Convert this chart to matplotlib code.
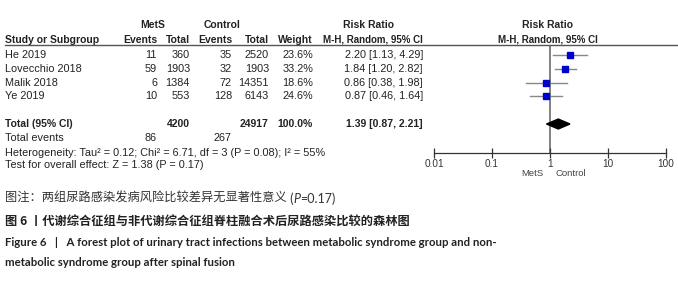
import matplotlib
matplotlib.use("Agg")
import matplotlib.pyplot as plt
import matplotlib.transforms as mtransforms
from matplotlib.lines import Line2D
from matplotlib.ticker import NullLocator

# data
studies = ["He 2019", "Lovecchio 2018", "Malik 2018", "Ye 2019"]
mets_events = [11, 59, 6, 10]
mets_total = [360, 1903, 1384, 553]
ctrl_events = [35, 32, 72, 128]
ctrl_total = [2520, 1903, 14351, 6143]
weights = [23.6, 33.2, 18.6, 24.6]
rr = [2.20, 1.84, 0.86, 0.87]
rr_lo = [1.13, 1.20, 0.38, 0.46]
rr_hi = [4.29, 2.82, 1.98, 1.64]
total_rr, total_lo, total_hi = 1.39, 0.87, 2.21
xticks = [0.01, 0.1, 1, 10, 100]
xtick_labels = ["0.01", "0.1", "1", "10", "100"]

W, H = 678, 300
fig = plt.figure(figsize=(W / 100, H / 100), dpi=100)
plt.rcParams['font.family'] = ['Liberation Sans', 'DejaVu Sans']

TXT = "#222222"
FS = 7.8

# forest axes, rows are y units
ax = fig.add_axes([434 / W, 1 - 153 / H, (666 - 434) / W, (153 - 45) / H])
ax.set_xscale('log')
ax.set_xlim(0.01, 100)
ax.set_ylim(7.1, -0.725)
ax.set_xticks(xticks)
ax.set_xticklabels(xtick_labels)
ax.xaxis.set_minor_locator(NullLocator())
ax.set_yticks([])
for s in ['left', 'right', 'top']:
    ax.spines[s].set_visible(False)
ax.spines['bottom'].set_color('#333333')
ax.spines['bottom'].set_linewidth(0.9)
ax.tick_params(axis='x', direction='inout', length=7, width=0.9, color='#333333',
               labelsize=7.2, labelcolor='#333333', pad=1)
ax.patch.set_alpha(0)
ax.axvline(1, color='#777777', lw=1.3, zorder=1)

rows = list(range(len(studies)))
total_row = 5
for i, r in enumerate(rows):
    ax.plot([rr_lo[i], rr_hi[i]], [r, r], color='#888888', lw=1, zorder=2)
    ax.plot(rr[i], r, marker='s', color='#0000cc', ms=0.85 * weights[i] ** 0.5,
            mec='#0000cc', zorder=3)
dh = 0.36
ax.fill([total_lo, total_rr, total_hi, total_rr],
        [total_row, total_row - dh, total_row, total_row + dh],
        color='black', zorder=3)

# table text
tr = mtransforms.blended_transform_factory(fig.transFigure, ax.transData)


def t(xpx, row, s, ha='right', bold=False, fs=FS, **kw):
    fig.text(xpx / W, row, s, transform=tr, ha=ha, va='center', fontsize=fs,
             color=TXT, fontweight='bold' if bold else 'normal', **kw)


h1, h2 = -2.15, -1.12
HF = 7.5
t(153, h1, "MetS", ha='center', bold=True, fs=HF)
t(222, h1, "Control", ha='center', bold=True, fs=HF)
t(369, h1, "Risk Ratio", ha='center', bold=True, fs=HF)
t(548, h1, "Risk Ratio", ha='center', bold=True, fs=HF)
t(5, h2, "Study or Subgroup", ha='left', bold=True, fs=HF)
t(157, h2, "Events", bold=True, fs=HF)
t(190, h2, "Total", bold=True, fs=HF)
t(232, h2, "Events", bold=True, fs=HF)
t(269, h2, "Total", bold=True, fs=HF)
t(313, h2, "Weight", bold=True, fs=HF)
t(423, h2, "M-H, Random, 95% CI", bold=True, fs=7.0)
t(548, h2, "M-H, Random, 95% CI", ha='center', bold=True, fs=7.0)
fig.add_artist(Line2D([5 / W, 1.0], [1 - 44.5 / H] * 2, transform=fig.transFigure,
                      color='#555555', lw=1))

for i, r in enumerate(rows):
    t(5, r, studies[i], ha='left')
    t(157, r, str(mets_events[i]))
    t(190, r, str(mets_total[i]))
    t(232, r, str(ctrl_events[i]))
    t(269, r, str(ctrl_total[i]))
    t(313, r, f"{weights[i]:.1f}%")
    t(423, r, f"{rr[i]:.2f} [{rr_lo[i]:.2f}, {rr_hi[i]:.2f}]")

t(5, total_row, "Total (95% CI)", ha='left', bold=True, fs=HF)
t(190, total_row, str(sum(mets_total)), bold=True, fs=HF)
t(269, total_row, str(sum(ctrl_total)), bold=True, fs=HF)
t(313, total_row, "100.0%", bold=True, fs=HF)
t(423, total_row, f"{total_rr:.2f} [{total_lo:.2f}, {total_hi:.2f}]", bold=True, fs=HF)
t(5, 6, "Total events", ha='left')
t(157, 6, str(sum(mets_events)))
t(232, 6, str(sum(ctrl_events)))
t(5, 7.1, "Heterogeneity: Tau² = 0.12; Chi² = 6.71, df = 3 (P = 0.08); I² = 55%", ha='left')
t(5, 8.0, "Test for overall effect: Z = 1.38 (P = 0.17)", ha='left')

fig.text(543 / W, 1 - 173 / H, "MetS", ha='right', va='center', fontsize=6.8, color='#444444')
fig.text(555 / W, 1 - 173 / H, "Control", ha='left', va='center', fontsize=6.8, color='#444444')

# captions
cjk = ['Noto Sans CJK SC', 'DejaVu Sans']
en = ['Lato', 'DejaVu Sans']
c1 = fig.text(5 / W, 1 - 202 / H, "图注：两组尿路感染发病风险比较差异无显著性意义", ha='left',
              va='baseline', fontsize=8.8, color='#333333', family=cjk)
a = plt.annotate(" (", xy=(1, 0), xycoords=c1, va='bottom', ha='left', fontsize=9,
                 color='#333333', family=en, annotation_clip=False)
a = plt.annotate("P", xy=(1, 0), xycoords=a, va='bottom', ha='left', fontsize=9,
                 color='#333333', family=en, style='italic', annotation_clip=False)
plt.annotate("=0.17)", xy=(1, 0), xycoords=a, va='bottom', ha='left', fontsize=9,
             color='#333333', family=en, annotation_clip=False)

fig.text(5 / W, 1 - 222 / H, "图 6 丨代谢综合征组与非代谢综合征组脊柱融合术后尿路感染比较的森林图",
         ha='left', va='center', fontsize=8.8, color='#222222', family=cjk, fontweight='bold')
fig.text(5 / W, 1 - 243 / H,
         "Figure 6 \u2002|\u2002 A forest plot of urinary tract infections between metabolic syndrome group and non-",
         ha='left', va='center', fontsize=8.2, color='#222222', family=en, fontweight='bold')
fig.text(5 / W, 1 - 263 / H, "metabolic syndrome group after spinal fusion",
         ha='left', va='center', fontsize=8.2, color='#222222', family=en, fontweight='bold')

fig.savefig("out.png", dpi=100)
